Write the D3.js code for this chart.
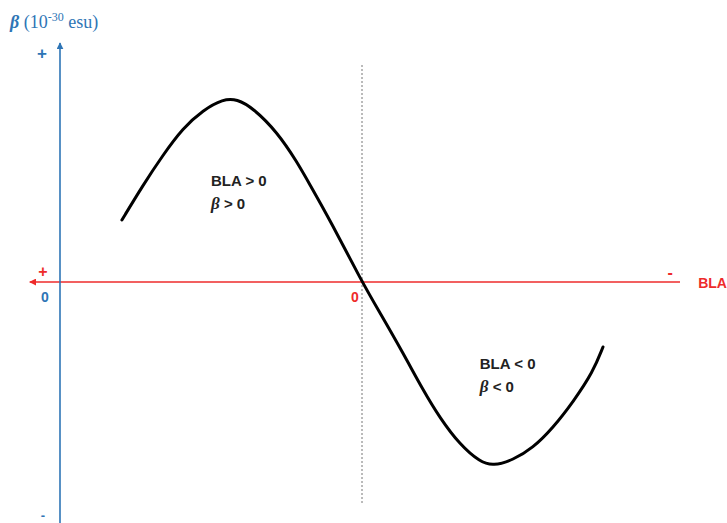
<!DOCTYPE html>
<html>
<head>
<meta charset="utf-8">
<script src="https://cdn.jsdelivr.net/npm/d3@7"></script>
<style>
  html, body { margin: 0; padding: 0; background: #fff; }
  svg { display: block; }
</style>
</head>
<body>
<div class="dataviz"></div>
<script>
// BLA values (left is positive, right is negative)
const bla = [0.795, 0.725, 0.659, 0.593, 0.526, 0.460, 0.414, 0.361, 0.281, 0.215,
  0.172, 0.106, 0, -0.060, -0.136, -0.202, -0.258, -0.325, -0.391, -0.434,
  -0.500, -0.566, -0.632, -0.699, -0.765, -0.798]
// beta values (arbitrary units)
const beta = [0.31, 0.485, 0.635, 0.77, 0.86, 0.915, 0.915, 0.87, 0.75, 0.60,
  0.485, 0.31, 0, -0.155, -0.355, -0.54, -0.68, -0.815, -0.90, -0.92,
  -0.89, -0.83, -0.73, -0.60, -0.45, -0.325]

const blaRange = [1.1, -1.053]
const betaRange = [-1.205, 1.195]
const zoneLabels = [
  { bla: 0.50, beta: 0.51, head: 'BLA > 0', sign: ' > 0' },
  { bla: -0.39, beta: -0.405, head: 'BLA < 0', sign: ' < 0' }
]

const width = 727
const height = 523
const blue = '#2e75b6'
const red = '#ee2b2b'

const svg = d3.select('.dataviz').append('svg')
  .attr('width', width).attr('height', height)

const xScale = d3.scaleLinear().domain([1, -1]).range([60, 664])
const yScale = d3.scaleLinear().domain([-1, 1]).range([482, 82])

const defs = svg.append('defs')
const marker = (id, color) => defs.append('marker')
  .attr('id', id)
  .attr('viewBox', '0 0 10 10')
  .attr('refX', 9).attr('refY', 5)
  .attr('markerWidth', 7).attr('markerHeight', 7)
  .attr('markerUnits', 'userSpaceOnUse')
  .attr('orient', 'auto')
  .append('path').attr('d', 'M0,0L10,5L0,10z').attr('fill', color)
marker('arrowBlue', blue)
marker('arrowRed', red)

// dotted line at BLA = 0
svg.append('line')
  .attr('x1', xScale(0)).attr('x2', xScale(0))
  .attr('y1', yScale(1.085)).attr('y2', yScale(-1.115))
  .attr('stroke', '#777').attr('stroke-width', 1)
  .attr('stroke-dasharray', '2,2')

// BLA axis (red)
svg.append('line')
  .attr('x1', xScale(blaRange[1])).attr('x2', xScale(blaRange[0]))
  .attr('y1', yScale(0)).attr('y2', yScale(0))
  .attr('stroke', red).attr('stroke-width', 1.3)
  .attr('marker-end', 'url(#arrowRed)')

// beta axis (blue)
svg.append('line')
  .attr('x1', xScale(1)).attr('x2', xScale(1))
  .attr('y1', yScale(betaRange[0])).attr('y2', yScale(betaRange[1]))
  .attr('stroke', blue).attr('stroke-width', 1.6)
  .attr('marker-end', 'url(#arrowBlue)')

// curve
const line = d3.line()
  .curve(d3.curveBasis)
  .x((d, i) => xScale(bla[i]))
  .y((d, i) => yScale(beta[i]))

svg.append('path')
  .datum(bla)
  .attr('d', line)
  .attr('fill', 'none')
  .attr('stroke', '#000')
  .attr('stroke-width', 3)
  .attr('stroke-linecap', 'round')

// axis signs and labels
const sans = 'Liberation Sans, Arial, sans-serif'
const serif = 'Liberation Serif, Times New Roman, serif'
const addText = (x, y, txt, color, size, anchor = 'middle') =>
  svg.append('text')
    .attr('x', x).attr('y', y)
    .attr('text-anchor', anchor)
    .attr('dominant-baseline', 'central')
    .attr('font-family', sans)
    .attr('font-weight', 'bold')
    .attr('font-size', size)
    .attr('fill', color)
    .text(txt)

addText(xScale(1) - 18, yScale(1.145), '+', blue, 17)
addText(xScale(1) - 17, yScale(-1.165), '-', blue, 13)
addText(xScale(1) - 15, yScale(-0.075), '0', blue, 14)
addText(xScale(1) - 17, yScale(0.055), '+', red, 16)
addText(xScale(-1.02), yScale(0.05), '-', red, 16)
addText(xScale(0) - 7, yScale(-0.075), '0', red, 14)
addText(xScale(-1.113), yScale(-0.005), 'BLA', red, 14, 'start')

// beta axis title
const title = svg.append('text')
  .attr('x', 10).attr('y', 28)
  .attr('font-family', serif)
  .attr('font-size', 18)
  .attr('fill', blue)
title.append('tspan').attr('font-weight', 'bold').attr('font-style', 'italic').text('β')
title.append('tspan').text(' (10')
title.append('tspan').attr('font-size', 12).attr('dy', -7).text('-30')
title.append('tspan').attr('dy', 7).text(' esu)')

// zone labels
zoneLabels.forEach(z => {
  const x = xScale(z.bla)
  const y = yScale(z.beta)
  addText(x, y, z.head, '#222', 15, 'start')
  const t = addText(x, y + 23, '', '#222', 15, 'start')
  t.append('tspan').attr('font-family', serif).attr('font-style', 'italic')
    .attr('font-size', 17).text('β')
  t.append('tspan').text(z.sign)
})
</script>
</body>
</html>
